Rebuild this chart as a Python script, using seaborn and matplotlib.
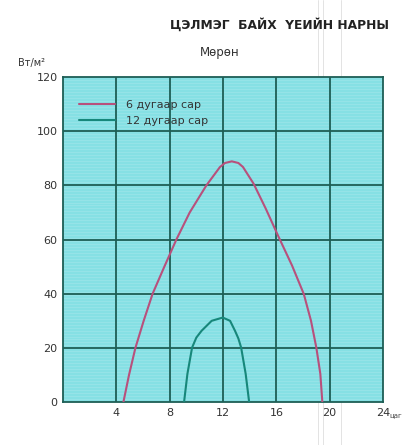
import numpy as np
import pandas as pd
import matplotlib
matplotlib.use("Agg")
import matplotlib.pyplot as plt
import seaborn as sns

# Solar radiation on clear days, Mörön station (W/m², by hour)
june_hours = [4.53, 4.95, 5.43, 6.05, 6.72, 7.6, 8.5, 9.5, 10.75, 11.77, 12.15, 12.66,
              13.15, 13.5, 14.3, 15.2, 16.18, 17.18, 18.06, 18.6, 19.0, 19.3, 19.45]
june_values = [0, 10, 20, 30, 40, 50, 60, 70, 80, 86.8, 88.3, 88.9,
               88.3, 86.8, 80.6, 71.5, 60.9, 50.4, 39.9, 30, 20.1, 10.4, 0]

dec_hours = [9.08, 9.33, 9.68, 10.0, 10.39, 11.15, 11.98, 12.53, 12.9, 13.15, 13.36, 13.7, 13.96]
dec_values = [0, 10.4, 20.1, 23.8, 26.3, 30, 31.2, 30, 26.3, 23.5, 20.1, 10.4, 0]

series_labels = ["6 дугаар сар", "12 дугаар сар"]
x_ticks = [4, 8, 12, 16, 20, 24]
y_ticks = [0, 20, 40, 60, 80, 100, 120]

df = pd.concat([
    pd.DataFrame({"hour": june_hours, "value": june_values, "month": series_labels[0]}),
    pd.DataFrame({"hour": dec_hours, "value": dec_values, "month": series_labels[1]}),
], ignore_index=True)

sns.set_theme(style="white")
plt.rcParams["font.family"] = ["DejaVu Sans"]

fig = plt.figure(figsize=(4.04, 4.45), dpi=100)
fig.patch.set_facecolor("white")
ax = fig.add_axes([0.156, 0.0966, 0.792, 0.730])
ax.set_facecolor("#86e0e4")

# scanned-paper texture: faint horizontal striations
for yy in np.arange(0, 120, 1.1):
    ax.axhline(yy, color="white", lw=0.5, alpha=0.18, zorder=0)

grid_color = "#1d5e55"
for xv in x_ticks[:-1]:
    ax.axvline(xv, color=grid_color, lw=1.3, zorder=1)
for yv in y_ticks[1:-1]:
    ax.axhline(yv, color=grid_color, lw=1.3, zorder=1)

sns.lineplot(data=df, x="hour", y="value", hue="month", sort=False,
             palette={series_labels[0]: "#b8507c", series_labels[1]: "#17877a"},
             lw=1.5, ax=ax, estimator=None, zorder=3)
for ln in ax.get_lines():
    ln.set_solid_joinstyle("round")

ax.set_xlim(0, 24)
ax.set_ylim(0, 120)
ax.set_xticks(x_ticks)
ax.set_yticks(y_ticks)
ax.tick_params(axis="both", length=0, labelsize=8, colors="#333333", pad=4)
ax.set_xlabel("")
ax.set_ylabel("")
for s in ax.spines.values():
    s.set_color(grid_color)
    s.set_linewidth(1.3)

leg = ax.legend(loc="upper left", bbox_to_anchor=(0.02, 0.96), frameon=False,
                fontsize=8, handlelength=3.2, handletextpad=1.0, labelspacing=0.5)
for t in leg.get_texts():
    t.set_color("#333333")

fig.text(0.42, 0.945, "ЦЭЛМЭГ  БАЙХ  ҮЕИЙН НАРНЫ", fontsize=8.8, fontweight="bold",
         color="#222222", ha="left", va="center")
fig.text(0.545, 0.883, "Мөрөн", fontsize=8.5, color="#333333", ha="center", va="center")
fig.text(0.045, 0.858, "Вт/м²", fontsize=7, color="#333333", ha="left", va="center")
fig.text(0.996, 0.068, "цаг", fontsize=5, color="#444444", ha="right", va="center")

# faint fold lines of the scanned sheet
for fx in (0.787, 0.80, 0.843):
    fig.add_artist(plt.Line2D([fx, fx], [0, 1], transform=fig.transFigure,
                              color="#c8c8c8", lw=0.6, alpha=0.6, zorder=0))

fig.savefig("out.png", dpi=100, facecolor="white")
